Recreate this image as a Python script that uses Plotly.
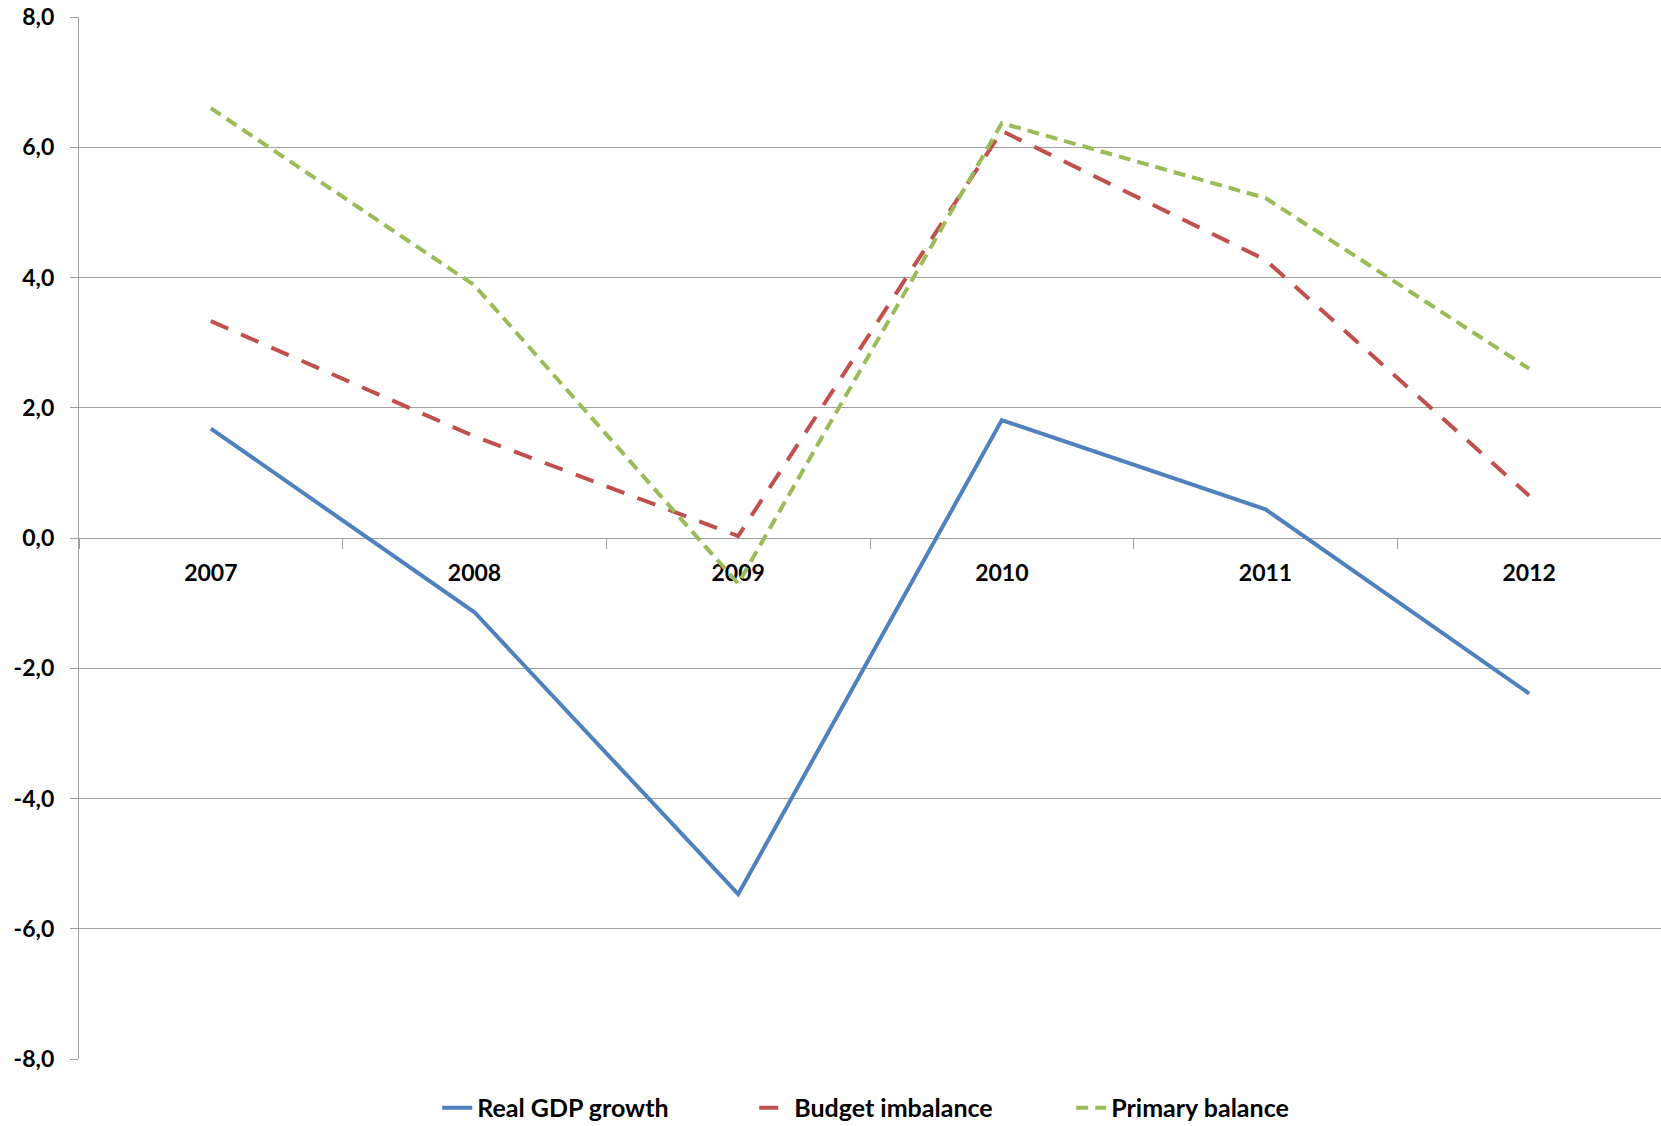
import plotly.graph_objects as go

years = ["2007", "2008", "2009", "2010", "2011", "2012"]
real_gdp_growth = [1.68, -1.14, -5.47, 1.81, 0.44, -2.39]
budget_imbalance = [3.33, 1.56, 0.03, 6.25, 4.27, 0.65]
primary_balance = [6.6, 3.88, -0.7, 6.37, 5.22, 2.6]
y_ticks = [-8, -6, -4, -2, 0, 2, 4, 6, 8]
y_tick_labels = ["-8,0", "-6,0", "-4,0", "-2,0", "0,0", "2,0", "4,0", "6,0", "8,0"]

FONT = dict(family="Lato", size=23, color="#000000", weight="bold")
LEGEND_FONT = dict(family="Lato", size=25, color="#000000", weight="bold")
GRID = "#A0A0A0"

fig = go.Figure()
fig.add_trace(go.Scatter(x=years, y=real_gdp_growth, name="Real GDP growth", mode="lines",
                         line=dict(color="#4F81BD", width=4)))
fig.add_trace(go.Scatter(x=years, y=budget_imbalance, name="Budget imbalance", mode="lines",
                         line=dict(color="#C0504D", width=4, dash="19px,14px")))
fig.add_trace(go.Scatter(x=years, y=primary_balance, name="Primary balance", mode="lines",
                         line=dict(color="#9BBB59", width=4, dash="12px,7px")))

fig.update_layout(
    width=1661, height=1126,
    margin=dict(l=79, r=0, t=17, b=67, autoexpand=False),
    paper_bgcolor="white", plot_bgcolor="white",
    font=FONT,
    showlegend=True,
    legend=dict(orientation="h", x=0.527, xanchor="center", y=-0.047, yanchor="middle",
                font=LEGEND_FONT, bgcolor="rgba(0,0,0,0)", entrywidth=272),
    xaxis=dict(type="category", range=[-0.5, 5.5], anchor="free", position=0.5,
               layer="below traces",
               showline=True, linecolor=GRID, linewidth=1.3,
               ticks="outside", tickson="boundaries", ticklen=10, tickcolor=GRID, tickwidth=1.3,
               showgrid=False, ticklabelstandoff=14, tickfont=FONT),
    yaxis=dict(range=[-8, 8], tickvals=y_ticks, ticktext=y_tick_labels,
               showline=True, linecolor=GRID, linewidth=1.3,
               ticks="outside", ticklen=8, tickcolor=GRID, tickwidth=1.3,
               showgrid=True, gridcolor=GRID, gridwidth=1.3, zeroline=False,
               ticklabelstandoff=11, tickfont=FONT),
)

fig.write_html("out.html")
